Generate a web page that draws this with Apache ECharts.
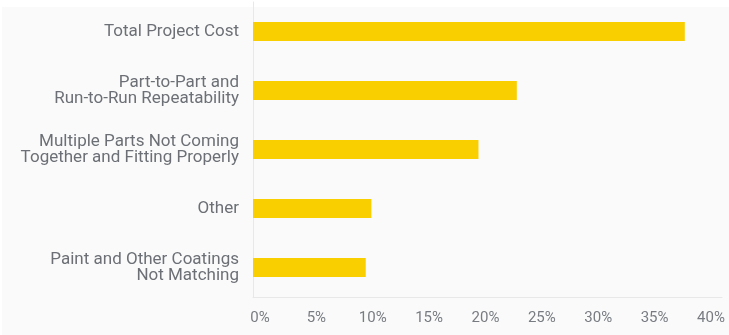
<!DOCTYPE html>
<html>
<head>
<meta charset="utf-8">
<script src="https://cdn.jsdelivr.net/npm/echarts@6/dist/echarts.min.js"></script>
<style>
  html, body { margin: 0; padding: 0; background: #ffffff; }
  #chart { width: 729px; height: 335px; }
</style>
</head>
<body>
<div id="chart"></div>
<script>
// Survey responses: share of respondents naming each challenge
const categories = [
  'Total Project Cost',
  'Part-to-Part and\nRun-to-Run Repeatability',
  'Multiple Parts Not Coming\nTogether and Fitting Properly',
  'Other',
  'Paint and Other Coatings\nNot Matching'
];
const shares = [38.3, 23.4, 20.0, 10.5, 10.0];
const tickValues = [0, 5, 10, 15, 20, 25, 30, 35, 40];

const chart = echarts.init(document.getElementById('chart'), null, { renderer: 'canvas' });

chart.setOption({
  animation: false,
  backgroundColor: '#ffffff',
  graphic: [{
    type: 'rect',
    z: -10,
    silent: true,
    shape: { x: 2, y: 7, width: 727, height: 328 },
    style: { fill: '#fafafa' }
  }],
  grid: { left: 253, right: 7, top: 2, height: 295, containLabel: false },
  xAxis: {
    type: 'value',
    min: 0,
    max: 41.6,
    interval: 5,
    splitLine: { show: false },
    axisTick: { show: false },
    axisLine: { show: true, lineStyle: { color: '#e8e8e8', width: 1 } },
    axisLabel: {
      showMaxLabel: false,
      margin: 14,
      padding: [0, 0, 0, 14],
      color: '#787c82',
      fontFamily: 'Roboto',
      fontSize: 15,
      formatter: v => (tickValues.indexOf(v) >= 0 ? v + '%' : '')
    }
  },
  yAxis: {
    type: 'category',
    inverse: true,
    data: categories,
    axisTick: { show: false },
    axisLine: { show: true, lineStyle: { color: '#e8e8e8', width: 1 } },
    axisLabel: {
      margin: 14,
      color: '#6c7076',
      fontFamily: 'Roboto',
      fontSize: 17,
      lineHeight: 16,
      align: 'right'
    }
  },
  series: [{
    type: 'bar',
    data: shares,
    barWidth: 19,
    itemStyle: { color: '#f9cf00' },
    label: { show: false }
  }]
});
</script>
</body>
</html>
